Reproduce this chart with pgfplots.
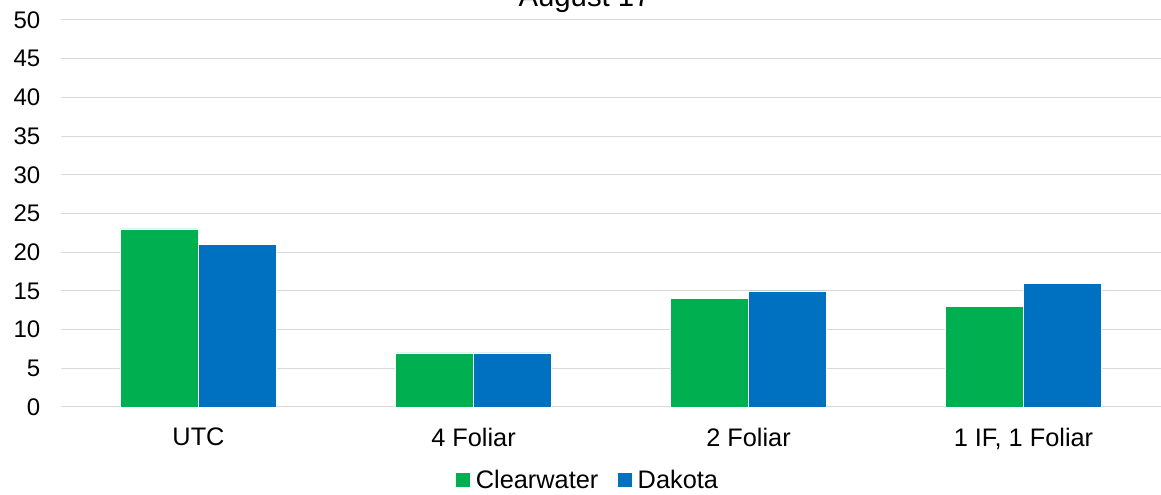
\documentclass[border=0pt]{standalone}
\usepackage{pgfplots}
\pgfplotsset{compat=1.18}
\usepackage{fontspec}
\setmainfont{Liberation Sans}
\definecolor{cwgreen}{HTML}{00B050}
\definecolor{dkblue}{HTML}{0070C0}
\definecolor{gridgray}{HTML}{D9D9D9}
\begin{document}
\begin{tikzpicture}
\begin{axis}[
  name=ax,
  scale only axis,
  width=825pt, height=290.25pt,
  clip=false,
  ybar=0pt, bar width=0.284,
  xmin=-0.5, xmax=3.5,
  ymin=0, ymax=50,
  ytick={0,5,...,50},
  xtick=data,
  xticklabels={UTC, 4 Foliar, 2 Foliar, {1 IF, 1 Foliar}},
  major tick length=0pt,
  ymajorgrids, grid style={gridgray, line width=0.75pt},
  axis x line*=bottom, axis y line*=left,
  x axis line style={gridgray, line width=0.75pt, -},
  y axis line style={draw=none},
  yticklabel style={font=\fontsize{18}{20}\selectfont, anchor=east, xshift=-12pt},
  xticklabel style={font=\fontsize{19}{21}\selectfont, anchor=north, yshift=-12pt},
  /pgf/number format/assume math mode=true,
  legend style={at={(0.479,-0.1886)}, anchor=center, draw=none,
    font=\fontsize{19}{21}\selectfont, legend columns=-1,
    /tikz/every even column/.append style={column sep=12pt},
    /tikz/every odd column/.append style={column sep=0pt}},
  legend image code/.code={\path[#1] (0pt,-5.6pt) rectangle (11.25pt,5.6pt);},
  legend cell align=left,
  every axis plot/.append style={draw=white, line width=0.3pt},
]
\addplot[fill=cwgreen] coordinates {(0,23) (1,7) (2,14) (3,13)};
\addplot[fill=dkblue] coordinates {(0,21) (1,7) (2,15) (3,16)};
\legend{\hspace{2pt}Clearwater, \hspace{2pt}Dakota}
\node[anchor=base, font=\fontsize{22}{24}\selectfont, yshift=9.75pt]
  at (rel axis cs:0.476,1) {August 17};
\end{axis}
\pgfresetboundingbox
\path (ax.south west) ++(-45.75pt,-66pt) coordinate (bl);
\path (ax.north east) ++(0pt,15pt) coordinate (tr);
\useasboundingbox (bl) rectangle (tr);
\end{tikzpicture}
\end{document}
